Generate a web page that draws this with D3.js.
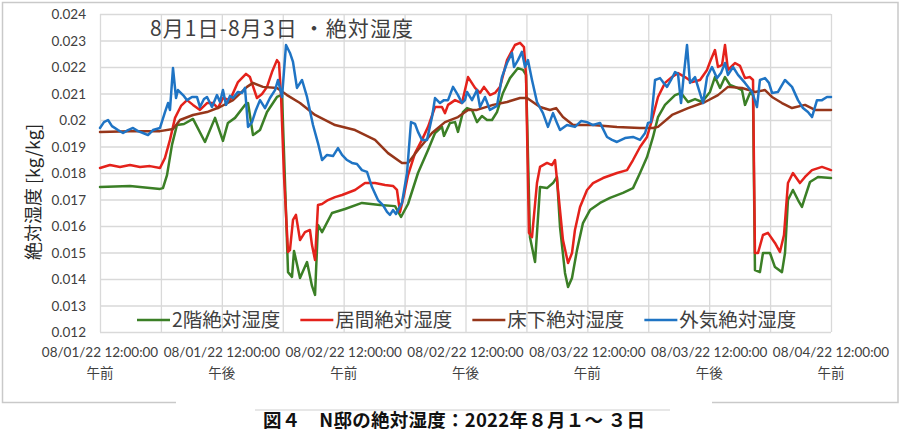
<!DOCTYPE html>
<html><head><meta charset="utf-8">
<script src="https://cdn.jsdelivr.net/npm/d3@7"></script>
<style>body{margin:0;background:#fff;}svg{display:block;}</style>
</head><body>
<svg id="chart" width="900" height="432"></svg>
<script>
// ---------------- data ----------------
const chartTitle = "8月1日-8月3日 ・絶対湿度";
const yAxisTitle = "絶対湿度 [kg/kg]";
const caption = "図４　N邸の絶対湿度：2022年８月１～ ３日";
const seriesNames = ["2階絶対湿度", "居間絶対湿度", "床下絶対湿度", "外気絶対湿度"];

const yTicks = [0.012,0.013,0.014,0.015,0.016,0.017,0.018,0.019,0.020,0.021,0.022,0.023,0.024];
const yTickLabels = ["0.012","0.013","0.014","0.015","0.016","0.017","0.018","0.019","0.02","0.021","0.022","0.023","0.024"];
const gridHours = [0,6,12,18,24,30,36,42,48,54,60,66,72];
const xLabelHours = [0,12,24,36,48,60,72];
const xLabelDates = ["08/01/22 12:00:00","08/01/22 12:00:00","08/02/22 12:00:00","08/02/22 12:00:00","08/03/22 12:00:00","08/03/22 12:00:00","08/04/22 12:00:00"];
const xLabelAmPm = ["午前","午後","午前","午後","午前","午後","午前"];

// hours since 08/01 00:00, absolute humidity [kg/kg]
const greenHours = [0,2.95,5.91,6.2,6.6,7.09,7.58,8.27,9.16,10.34,11.33,12.11,12.6,13.3,14.28,14.58,15.07,15.76,16.45,17.43,17.83,17.93,18.52,18.91,19.11,19.7,20.39,20.88,21.18,21.47,21.87,22.85,24.13,25.8,27.58,29.06,29.65,30.34,31.32,32.31,33.0,33.68,33.88,34.47,34.97,35.26,35.75,36.15,36.64,37.13,37.62,38.12,38.61,39.1,39.69,40.38,41.17,41.66,41.96,42.35,42.85,43.34,44.03,44.62,45.01,45.31,45.8,46.1,46.49,46.98,47.57,48.26,49.25,50.23,51.51,52.5,53.19,53.88,54.47,54.96,55.65,56.64,57.23,57.92,58.61,59.3,60.08,60.57,61.07,61.56,62.05,62.54,63.23,63.53,64.02,64.32,64.51,65.0,65.3,65.99,66.48,67.17,67.47,67.76,68.25,68.75,69.14,69.44,69.93,70.72,72];
const greenValues = [0.01747,0.01751,0.01740,0.01743,0.01792,0.01906,0.01981,0.01985,0.02004,0.01917,0.02008,0.01921,0.01989,0.02008,0.02057,0.02064,0.01943,0.01962,0.02030,0.02087,0.02094,0.02094,0.01426,0.01408,0.01506,0.01404,0.01464,0.01374,0.01340,0.01604,0.01577,0.01649,0.01664,0.01687,0.01679,0.01675,0.01634,0.01683,0.01800,0.01887,0.01951,0.01974,0.01940,0.01989,0.01992,0.01955,0.02030,0.02045,0.02038,0.01992,0.02015,0.02000,0.02000,0.02030,0.02102,0.02158,0.02196,0.02189,0.02170,0.01558,0.01464,0.01747,0.01743,0.01762,0.01785,0.01596,0.01423,0.01370,0.01404,0.01509,0.01611,0.01660,0.01687,0.01706,0.01725,0.01743,0.01800,0.01860,0.01936,0.02011,0.02057,0.02094,0.02102,0.02068,0.02079,0.02068,0.02106,0.02162,0.02121,0.02162,0.02132,0.02125,0.02113,0.02057,0.02102,0.02094,0.01434,0.01426,0.01498,0.01498,0.01445,0.01426,0.01498,0.01698,0.01736,0.01698,0.01672,0.01709,0.01766,0.01785,0.01781];

const redHours = [0,0.98,1.97,2.95,3.94,4.92,5.91,6.4,6.89,7.39,7.98,8.57,9.16,9.85,10.54,11.13,11.62,12.11,12.8,13.59,14.38,14.77,15.46,15.96,16.45,16.94,17.43,17.63,17.83,18.12,18.52,18.71,19.01,19.3,19.7,20.19,20.68,20.88,21.18,21.47,21.87,22.46,23.15,23.84,25.12,26.1,27.09,28.07,28.86,29.25,29.55,29.94,30.34,31.03,31.71,32.31,33.0,33.68,33.98,34.28,34.97,35.65,36.25,36.94,37.43,37.82,38.41,38.9,39.4,40.09,40.87,41.37,41.76,41.96,42.25,42.55,43.04,43.34,44.03,44.52,44.82,45.11,45.6,46.1,46.49,46.78,47.28,47.97,48.56,49.54,50.92,51.91,52.5,53.19,53.88,54.37,54.96,55.65,56.34,56.93,57.62,58.31,59.1,59.79,60.08,60.57,60.87,61.27,61.56,61.85,62.54,63.04,63.53,64.02,64.32,64.51,64.81,65.3,65.79,66.48,66.97,67.37,67.76,68.25,68.94,69.44,70.13,71.11,72];
const redValues = [0.01819,0.01830,0.01823,0.01830,0.01823,0.01826,0.01819,0.01857,0.01925,0.02008,0.02053,0.02075,0.02057,0.02038,0.02064,0.02064,0.02045,0.02083,0.02075,0.02143,0.02174,0.02162,0.02083,0.02098,0.02125,0.02181,0.02226,0.02215,0.02094,0.01792,0.01502,0.01509,0.01623,0.01642,0.01547,0.01577,0.01585,0.01528,0.01472,0.01679,0.01683,0.01698,0.01709,0.01717,0.01736,0.01762,0.01762,0.01755,0.01751,0.01736,0.01653,0.01717,0.01792,0.01875,0.01925,0.01974,0.02049,0.02049,0.02026,0.02057,0.02075,0.02064,0.02162,0.02121,0.02102,0.02125,0.02094,0.02102,0.02125,0.02226,0.02283,0.02291,0.02275,0.02170,0.01574,0.01558,0.01762,0.01823,0.01838,0.01830,0.01849,0.01736,0.01547,0.01460,0.01498,0.01585,0.01672,0.01736,0.01762,0.01781,0.01800,0.01811,0.01849,0.01898,0.01936,0.02000,0.02087,0.02140,0.02162,0.02177,0.02162,0.02143,0.02151,0.02189,0.02219,0.02264,0.02200,0.02208,0.02283,0.02189,0.02215,0.02204,0.02158,0.02162,0.02151,0.01498,0.01498,0.01566,0.01574,0.01536,0.01502,0.01566,0.01762,0.01800,0.01762,0.01785,0.01811,0.01823,0.01811];

const brownHours = [0,2.95,5.91,7.19,7.88,9.16,10.54,11.82,13.1,14.48,15.07,16.05,17.43,18.42,19.7,21.18,23.15,25.12,27.09,28.37,29.74,30.34,31.32,32.7,33.98,35.26,36.25,37.13,38.71,40.09,41.37,42.06,43.34,44.32,44.92,45.6,46.59,48.56,50.92,53.19,54.47,54.96,56.34,57.92,59.59,60.87,61.85,63.23,64.51,65.5,66.19,67.17,68.16,69.44,70.42,72];
const brownValues = [0.01955,0.01958,0.01958,0.01966,0.02000,0.02019,0.02030,0.02049,0.02075,0.02125,0.02140,0.02125,0.02121,0.02094,0.02064,0.02019,0.01981,0.01962,0.01925,0.01875,0.01838,0.01838,0.01887,0.01951,0.01992,0.02011,0.02038,0.02038,0.02057,0.02068,0.02083,0.02083,0.02049,0.02038,0.02045,0.02011,0.01981,0.01981,0.01974,0.01970,0.01970,0.01974,0.02019,0.02045,0.02068,0.02094,0.02125,0.02121,0.02106,0.02113,0.02087,0.02064,0.02045,0.02057,0.02038,0.02038];

const blueHours = [0,0.39,0.79,1.18,1.77,2.27,2.76,3.25,3.74,4.24,4.73,5.22,5.91,6.4,6.7,6.89,7.19,7.49,7.68,8.18,8.57,9.06,9.55,9.85,10.24,10.54,11.03,11.52,11.82,12.11,12.41,12.8,13.1,13.59,13.99,14.28,14.58,14.97,15.36,15.76,16.25,16.74,17.24,17.53,17.93,18.32,18.71,19.01,19.4,19.9,20.39,20.98,21.47,21.87,22.36,22.95,23.44,23.84,24.33,24.82,25.31,25.8,26.3,26.79,27.38,27.87,28.27,28.56,28.86,29.15,29.74,30.24,30.63,31.03,31.32,31.71,32.21,32.7,33.0,33.49,33.88,34.28,34.77,35.26,35.65,35.95,36.15,36.64,37.13,37.43,37.92,38.41,39.1,39.59,40.09,40.58,40.78,41.17,41.56,41.86,42.15,42.55,43.04,43.63,44.12,44.62,45.01,45.31,46.0,46.78,47.38,47.97,48.56,49.25,49.94,50.43,50.92,51.71,52.5,53.19,53.69,53.98,54.27,54.67,55.16,55.45,55.85,56.24,56.64,56.93,57.23,57.52,57.82,58.11,58.61,58.9,59.4,59.79,60.28,60.77,61.16,61.56,61.85,62.35,62.84,63.53,64.22,64.71,65.0,65.5,65.89,66.19,66.78,67.47,68.16,68.75,69.24,69.73,70.13,70.62,71.11,71.6,72];
const blueValues = [0.01970,0.01992,0.02000,0.01977,0.01962,0.01951,0.01962,0.01970,0.01958,0.01951,0.01943,0.01962,0.01970,0.02030,0.02064,0.02038,0.02196,0.02083,0.02113,0.02094,0.02075,0.02087,0.02087,0.02049,0.02079,0.02087,0.02049,0.02094,0.02068,0.02113,0.02057,0.02091,0.02083,0.02106,0.02102,0.02121,0.01974,0.01992,0.02038,0.02075,0.02045,0.02083,0.02113,0.02151,0.02087,0.02283,0.02253,0.02219,0.02121,0.02151,0.02087,0.01981,0.01913,0.01849,0.01868,0.01864,0.01894,0.01868,0.01849,0.01838,0.01834,0.01811,0.01804,0.01747,0.01698,0.01679,0.01653,0.01642,0.01660,0.01645,0.01687,0.01800,0.01992,0.01985,0.01955,0.01925,0.01925,0.02011,0.02083,0.02064,0.02075,0.02075,0.02125,0.02094,0.02064,0.02075,0.02106,0.02075,0.02113,0.02049,0.02087,0.02038,0.02053,0.02162,0.02215,0.02253,0.02200,0.02226,0.02257,0.02200,0.02226,0.02151,0.02068,0.02026,0.01974,0.02026,0.01989,0.01962,0.01981,0.01974,0.01996,0.01992,0.01981,0.01989,0.01936,0.01925,0.01917,0.01932,0.01936,0.01925,0.01951,0.01989,0.01992,0.02151,0.02158,0.02143,0.02125,0.02151,0.02181,0.02174,0.02064,0.02177,0.02283,0.02140,0.02162,0.02125,0.02064,0.02162,0.02200,0.02158,0.02177,0.02215,0.02170,0.02200,0.02170,0.02140,0.02106,0.02049,0.02151,0.02158,0.02140,0.02102,0.02106,0.02151,0.02125,0.02075,0.02045,0.02030,0.02011,0.02075,0.02075,0.02087,0.02087];

// ---------------- drawing ----------------
const svg = d3.select("#chart");
const plotLeft = 100, plotRight = 831, plotTop = 14, plotBottom = 332;
const x = d3.scaleLinear().domain([0, 72]).range([plotLeft, plotRight]);
const y = d3.scaleLinear().domain([0.012, 0.024]).range([plotBottom, plotTop]);

const latin = "Lato, 'Open Sans', sans-serif";
const cjk = "'Noto Sans CJK JP', 'Noto Sans', sans-serif";
const gridColor = "#d9d9d9";
const textColor = "#404040";

// frame
svg.append("rect").attr("x", 2.5).attr("y", 2.5).attr("width", 895.5).attr("height", 400)
  .attr("fill", "#fff").attr("stroke", "#c9c9c9").attr("stroke-width", 1.5);
svg.append("rect").attr("x", 176).attr("y", 398).attr("width", 536).attr("height", 34).attr("fill", "#fff");
svg.append("line").attr("x1", 255).attr("x2", 670).attr("y1", 410).attr("y2", 410)
  .attr("stroke", "#cfcfcf").attr("stroke-width", 1.2);

// horizontal grid + y labels
const yAxis = d3.axisLeft(y).tickValues(yTicks)
  .tickFormat((d, i) => yTickLabels[i])
  .tickSize(-(plotRight - plotLeft)).tickPadding(14);
const gy = svg.append("g").attr("transform", `translate(${plotLeft},0)`).call(yAxis);
gy.select(".domain").remove();
gy.selectAll(".tick line").attr("stroke", gridColor).attr("stroke-width", 1.3);
gy.selectAll(".tick text").attr("font-family", latin).attr("font-size", 13.5)
  .attr("fill", textColor).attr("dy", "0.35em");

// vertical grid
const xGrid = d3.axisBottom(x).tickValues(gridHours).tickFormat("").tickSize(-(plotBottom - plotTop));
const gx = svg.append("g").attr("transform", `translate(0,${plotBottom})`).call(xGrid);
gx.select(".domain").remove();
gx.selectAll(".tick line").attr("stroke", gridColor).attr("stroke-width", 1.3);

// x labels (two lines)
const xl = svg.append("g").selectAll("g").data(xLabelHours).join("g")
  .attr("transform", d => `translate(${x(d)},0)`);
xl.append("text").attr("y", 357).attr("text-anchor", "middle")
  .attr("font-family", latin).attr("font-size", 13.5).attr("fill", textColor)
  .text((d, i) => xLabelDates[i]);
xl.append("text").attr("y", 378).attr("text-anchor", "middle")
  .attr("font-family", cjk).attr("font-size", 13.5).attr("fill", textColor)
  .text((d, i) => xLabelAmPm[i]);

// series
const series = [
  {name: seriesNames[0], hours: greenHours, values: greenValues, color: "#3b7f26"},
  {name: seriesNames[1], hours: redHours, values: redValues, color: "#e4221b"},
  {name: seriesNames[2], hours: brownHours, values: brownValues, color: "#96361a"},
  {name: seriesNames[3], hours: blueHours, values: blueValues, color: "#1f74c4"}
];
const line = d3.line().x(d => x(d[0])).y(d => y(d[1]));
series.forEach(s => {
  const n = Math.min(s.hours.length, s.values.length);
  const pts = d3.range(n).map(i => [s.hours[i], s.values[i]]);
  svg.append("path").datum(pts).attr("d", line).attr("fill", "none")
    .attr("stroke", s.color).attr("stroke-width", 2.5)
    .attr("stroke-linejoin", "round").attr("stroke-linecap", "round");
});

// title
svg.append("text").attr("x", 150).attr("y", 36)
  .attr("font-family", cjk).attr("font-size", 21).attr("fill", textColor)
  .attr("textLength", 263).attr("lengthAdjust", "spacing")
  .text(chartTitle);

// y axis title
svg.append("text").attr("transform", "translate(40,192) rotate(-90)")
  .attr("text-anchor", "middle").attr("font-family", cjk).attr("font-size", 18)
  .attr("fill", "#262626").text(yAxisTitle);

// legend
const lg = svg.append("g");
let lx = 137;
series.forEach(s => {
  lg.append("line").attr("x1", lx).attr("x2", lx + 33).attr("y1", 320).attr("y2", 320)
    .attr("stroke", s.color).attr("stroke-width", 2.5);
  const t = lg.append("text").attr("x", lx + 35).attr("y", 327)
    .attr("font-family", cjk).attr("font-size", 19.5).attr("fill", textColor).text(s.name);
  lx += 35 + t.node().getComputedTextLength() + 20;
});

// caption
svg.append("text").attr("x", 263).attr("y", 427)
  .attr("font-family", cjk).attr("font-size", 18.5).attr("font-weight", "bold").attr("fill", "#111")
  .attr("textLength", 382).attr("lengthAdjust", "spacing")
  .text(caption);
</script>
</body></html>
